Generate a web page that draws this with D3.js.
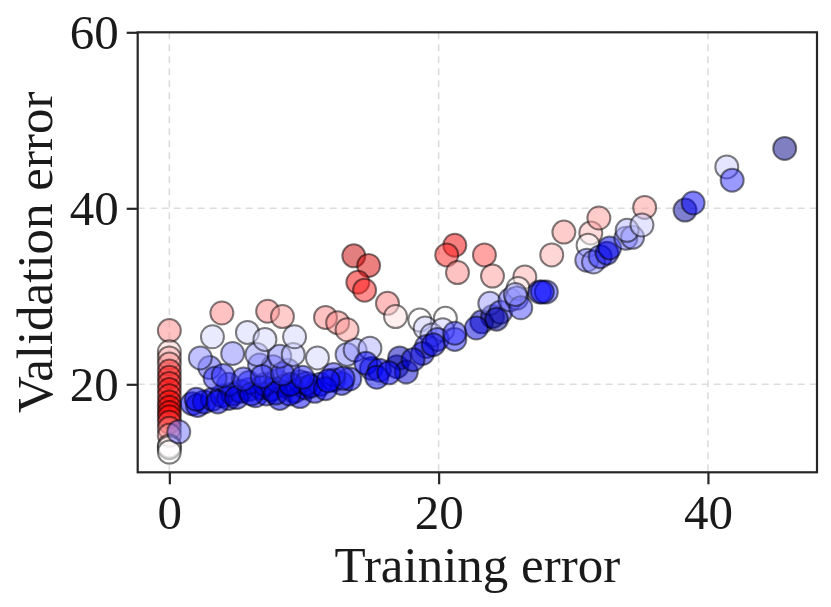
<!DOCTYPE html>
<html>
<head>
<meta charset="utf-8">
<script src="https://cdn.jsdelivr.net/npm/d3@7"></script>
<style>
  body { margin: 0; background: #fff; }
  text { font-family: "Liberation Serif", "Times New Roman", serif; fill: #1a1a1a; }
</style>
</head>
<body>
<div id="chart"></div>
<script>
//-----------------------------DATA------------------------------//
// training error, validation error and colour value (0..1 on the seismic map)
const trainErr = [
  0, 0, 0, 0, 0, 0, 0, 0, 0, 0, 0, 0, 0, 0, 0, 0, 0, 0, 0, 0.7,
  1.7, 2.1, 2.6, 3.2, 3.9, 4.4, 4.7, 5.3, 5.9, 6.4, 6.8, 7.2, 7.6, 8.2, 8.6, 9.3, 9.7, 10.1, 10.8,
  4.4, 5.9, 7.1, 8.0, 9.7, 11.2, 12.2, 12.8, 13.4, 10.2, 3.0, 3.4, 6.7, 7.7, 8.8, 12.2, 12.9,
  2.0, 3.6, 5.0, 6.1, 7.9, 8.9, 9.0, 10.5, 11.6, 5.5, 6.9, 8.4, 9.9, 4.0, 11.8,
  2.3, 4.7, 6.5, 8.2, 9.2, 11.0, 13.2, 13.8, 14.9,
  3.2, 5.8, 7.1, 9.3,
  3.9, 7.3, 8.4, 11.6, 12.5, 13.2,
  13.7, 14.8, 14.0, 14.5, 16.2, 16.8, 21.2, 20.6, 21.4, 23.4, 24.0,
  18.6, 20.5,
  19.0, 19.5, 20.3, 19.1, 19.9, 21.2, 21.2, 15.0, 14.6, 15.6, 16.9, 17.1, 17.6, 18.8, 15.4, 16.3, 18.1, 19.6,
  23.2, 24.0, 22.8, 23.8, 24.6, 24.3, 25.3, 26.4, 25.9, 27.5, 28.0, 27.7, 25.8, 26.1, 25.7,
  29.3, 28.4, 31.3, 31.9, 31.1, 35.3,
  31.0, 31.5, 32.0, 32.5, 32.7, 33.9, 34.4, 34.0, 35.1, 38.3, 38.9, 41.4, 41.8, 45.7
];
const valErr = [
  26.1, 23.7, 23.0, 22.3, 21.5, 20.8, 20.1, 19.4, 18.7, 18.0, 17.4, 16.8, 16.3, 15.7, 15.0, 14.2, 13.0, 12.8, 12.3, 14.6,
  17.8, 17.6, 18.0, 18.3, 18.7, 18.4, 18.9, 19.2, 19.4, 18.7, 19.6, 18.9, 19.4, 18.4, 19.8, 19.2, 18.6, 19.6, 19.2,
  20.0, 20.2, 20.0, 20.4, 20.3, 20.0, 20.5, 20.1, 20.6, 20.1, 21.9, 20.7, 22.2, 22.0, 21.6, 21.1, 20.7,
  18.3, 18.0, 18.5, 18.9, 19.0, 18.9, 20.0, 19.8, 19.5, 20.6, 20.9, 21.2, 20.8, 21.0, 20.4,
  23.0, 23.5, 23.4, 23.2, 23.4, 23.0, 23.4, 23.9, 24.1,
  25.4, 25.9, 25.1, 25.4,
  28.1, 28.3, 27.7, 27.6, 27.0, 26.2,
  34.6, 33.5, 31.6, 30.7, 29.2, 27.7, 35.8, 34.7, 32.7, 34.7, 32.3,
  27.3, 27.5,
  26.4, 25.6, 26.2, 24.3, 25.1, 25.1, 25.8, 21.8, 22.4, 21.6, 22.0, 23.0, 21.4, 23.5, 20.8, 21.3, 22.8, 24.5,
  27.1, 27.7, 26.4, 29.2, 28.2, 27.4, 29.6, 32.2, 30.9, 30.5, 30.5, 30.5, 29.8, 28.7, 30.2,
  37.3, 34.7, 37.2, 38.9, 35.8, 40.1,
  34.1, 33.9, 34.5, 34.9, 35.5, 36.6, 36.7, 37.5, 38.1, 39.8, 40.6, 44.7, 43.2, 46.8
];
const colorVal = [
  0.62, 0.54, 0.58, 0.6, 0.7, 0.72, 0.7, 0.74, 0.72, 0.76, 0.78, 0.76, 0.74, 0.7, 0.64, 0.6, 0.52, 0.5, 0.5, 0.36,
  0.24, 0.23, 0.24, 0.25, 0.24, 0.23, 0.25, 0.24, 0.23, 0.25, 0.24, 0.23, 0.25, 0.24, 0.24, 0.23, 0.25, 0.24, 0.26,
  0.28, 0.27, 0.26, 0.28, 0.27, 0.26, 0.25, 0.22, 0.26, 0.28, 0.33, 0.3, 0.35, 0.35, 0.33, 0.3, 0.28,
  0.22, 0.22, 0.2, 0.22, 0.2, 0.22, 0.22, 0.22, 0.25, 0.3, 0.3, 0.3, 0.28, 0.3, 0.25,
  0.38, 0.38, 0.4, 0.38, 0.44, 0.46, 0.38, 0.4, 0.42,
  0.46, 0.46, 0.46, 0.46,
  0.62, 0.62, 0.6, 0.62, 0.62, 0.6,
  0.86, 0.82, 0.77, 0.72, 0.63, 0.53, 0.78, 0.72, 0.62, 0.68, 0.6,
  0.5, 0.5,
  0.45, 0.43, 0.45, 0.3, 0.3, 0.28, 0.3, 0.18, 0.25, 0.25, 0.12, 0.15, 0.18, 0.2, 0.22, 0.25, 0.18, 0.2,
  0.15, 0.12, 0.2, 0.4, 0.3, 0.1, 0.35, 0.58, 0.5, 0.28, 0.3, 0.25, 0.35, 0.32, 0.4,
  0.6, 0.58, 0.57, 0.6, 0.5, 0.6,
  0.35, 0.38, 0.3, 0.2, 0.22, 0.35, 0.38, 0.43, 0.45, 0.12, 0.25, 0.45, 0.3, 0.08
];
const xTicks = [0, 20, 40];
const yTicks = [20, 40, 60];

//-----------------------------SVG-------------------------------//
const width = 831;
const height = 607;
const plot = { left: 137.7, right: 817, top: 32.3, bottom: 472.3 };

const svg = d3.select("#chart").append("svg")
    .attr("width", width)
    .attr("height", height);

//----------------------------SCALES-----------------------------//
const xScale = d3.scaleLinear().domain([-2.35, 48.1]).range([plot.left, plot.right]);
const yScale = d3.scaleLinear().domain([10, 60]).range([plot.bottom, plot.top]);
// matplotlib "seismic"
const colorScale = d3.scaleLinear()
    .domain([0, 0.25, 0.5, 0.75, 1])
    .range(["#00004d", "#0000ff", "#ffffff", "#ff0000", "#800000"]);

const dataset = trainErr.map((t, i) => ({ t: t, v: valErr[i], c: colorVal[i] }));

//-----------------------------GRID------------------------------//
const grid = svg.append("g").attr("stroke", "#dddddd").attr("stroke-width", 1.6)
    .attr("stroke-dasharray", "7,5");
grid.selectAll("line.gx").data(xTicks).enter().append("line")
    .attr("x1", d => xScale(d)).attr("x2", d => xScale(d))
    .attr("y1", plot.top).attr("y2", plot.bottom);
grid.selectAll("line.gy").data(yTicks).enter().append("line")
    .attr("y1", d => yScale(d)).attr("y2", d => yScale(d))
    .attr("x1", plot.left).attr("x2", plot.right);

//----------------------------POINTS-----------------------------//
svg.append("g").selectAll("circle").data(dataset).enter().append("circle")
    .attr("cx", d => xScale(d.t))
    .attr("cy", d => yScale(d.v))
    .attr("r", 11.5)
    .attr("fill", d => colorScale(d.c))
    .attr("fill-opacity", 0.5)
    .attr("stroke", "#000")
    .attr("stroke-opacity", 0.5)
    .attr("stroke-width", 2);

//-----------------------------AXES------------------------------//
const xaxis = d3.axisBottom(xScale).tickValues(xTicks).tickSize(12).tickPadding(10);
const yaxis = d3.axisLeft(yScale).tickValues(yTicks).tickSize(11).tickPadding(8);

const gx = svg.append("g").attr("transform", "translate(0," + plot.bottom + ")").call(xaxis);
const gy = svg.append("g").attr("transform", "translate(" + plot.left + ",0)").call(yaxis);
[gx, gy].forEach(g => {
  g.select(".domain").remove();
  g.selectAll(".tick line").attr("stroke", "#262626").attr("stroke-width", 2.2);
  g.selectAll(".tick text").attr("font-size", 49).attr("fill", "#1a1a1a")
      .style("font-family", "'Liberation Serif', serif");
});
gy.selectAll(".tick text").attr("dy", "0.34em");

// frame
svg.append("rect")
    .attr("x", plot.left).attr("y", plot.top)
    .attr("width", plot.right - plot.left).attr("height", plot.bottom - plot.top)
    .attr("fill", "none").attr("stroke", "#262626").attr("stroke-width", 2.2);

//----------------------------LABELS-----------------------------//
svg.append("text")
    .attr("x", (plot.left + plot.right) / 2)
    .attr("y", 582)
    .attr("text-anchor", "middle")
    .attr("font-size", 51)
    .text("Training error");

svg.append("text")
    .attr("transform", "translate(52," + (plot.top + plot.bottom) / 2 + ") rotate(-90)")
    .attr("text-anchor", "middle")
    .attr("font-size", 51)
    .text("Validation error");
</script>
</body>
</html>
